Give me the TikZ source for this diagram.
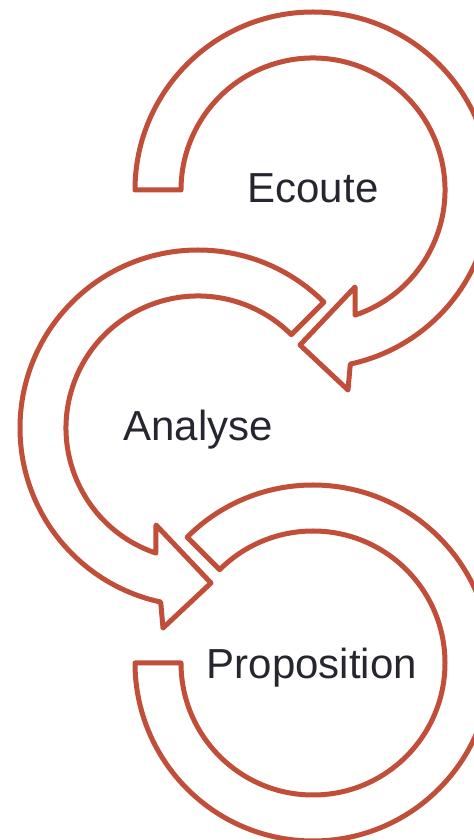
\documentclass[tikz,border=0pt]{standalone}
\usepackage{fontspec}
\setmainfont{Liberation Sans}
\definecolor{ringred}{RGB}{192,78,56}
\definecolor{textdark}{RGB}{38,38,48}
\begin{document}
\begin{tikzpicture}[x=0.5bp,y=0.5bp,
    ring/.style={draw=ringred, fill=white, line width=2.5bp, line join=round},
    steplabel/.style={text=textdark, anchor=base, inner sep=0pt, font=\fontsize{21bp}{25bp}\selectfont}]
\useasboundingbox (0,0) rectangle (474,840);
\clip (0,0) rectangle (474,840);
\coordinate (c1) at (313,650);
\coordinate (c2) at (198,412);
\coordinate (c3) at (313,177);
% Ecoute: from the left, clockwise, head at the bottom
\draw[ring, shift={(c1)}] (180:178) arc[start angle=180, end angle=-77.9, radius=178]
    -- (35,-200) -- (-13,-155) -- (42,-97) -- (-71.4:132)
    arc[start angle=-71.4, end angle=180, radius=132] -- cycle;
% Analyse: from upper right, anticlockwise, head at the bottom
\draw[ring, shift={(c2)}] (45:178) arc[start angle=45, end angle=257.9, radius=178]
    -- (-35,-200) -- (13,-155) -- (-42,-97) -- (251.4:132)
    arc[start angle=251.4, end angle=45, radius=132] -- cycle;
% Proposition: from upper left, clockwise, flat end at the left
\draw[ring, shift={(c3)}] (135:178) arc[start angle=135, end angle=-180, radius=178]
    -- (180:132) arc[start angle=-180, end angle=135, radius=132] -- cycle;
\node[steplabel] (ecoute) at (313,637) {Ecoute};
\node[steplabel] (analyse) at (198,399) {Analyse};
\node[steplabel] (proposition) at (312,161) {Proposition};
\end{tikzpicture}
\end{document}
